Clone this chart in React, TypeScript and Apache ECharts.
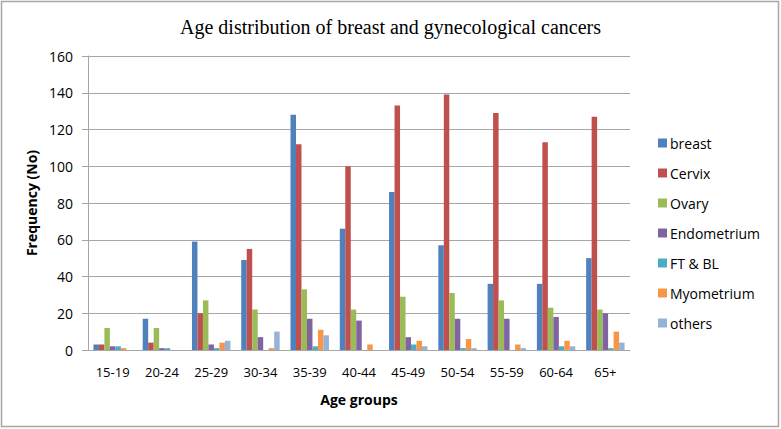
import React, { useEffect, useRef } from "react";
import * as echarts from "echarts";

const categories = ["15-19", "20-24", "25-29", "30-34", "35-39", "40-44", "45-49", "50-54", "55-59", "60-64", "65+"];
const breast = [3, 17, 59, 49, 128, 66, 86, 57, 36, 36, 50];
const cervix = [3, 4, 20, 55, 112, 100, 133, 139, 129, 113, 127];
const ovary = [12, 12, 27, 22, 33, 22, 29, 31, 27, 23, 22];
const endometrium = [2, 1, 3, 7, 17, 16, 7, 17, 17, 18, 20];
const ftbl = [2, 1, 1, 0, 2, 0, 3, 1, 0, 2, 1];
const myometrium = [1, 0, 4, 1, 11, 3, 5, 6, 3, 5, 10];
const others = [0, 0, 5, 10, 8, 0, 2, 1, 1, 2, 4];

const seriesNames = ["breast", "Cervix", "Ovary", "Endometrium", "FT & BL", "Myometrium", "others"];
const seriesData = [breast, cervix, ovary, endometrium, ftbl, myometrium, others];
const colors = ["#4F81BD", "#C0504D", "#9BBB59", "#8064A2", "#4BACC6", "#F79646", "#95B3D7"];

const sansFont = "'Open Sans', 'Noto Sans', sans-serif";

export default function App() {
  const ref = useRef<HTMLDivElement>(null);
  useEffect(() => {
    if (!ref.current) return;
    const chart = echarts.init(ref.current, undefined, { renderer: "svg" });
    chart.setOption({
      animation: false,
      backgroundColor: "#ffffff",
      color: colors,
      title: {
        text: "Age distribution of breast and gynecological cancers",
        left: "center",
        top: 12,
        textStyle: { fontFamily: "'Liberation Serif', 'DejaVu Serif', serif", fontSize: 20, fontWeight: "normal", color: "#000" },
      },
      graphic: [
        {
          type: "rect",
          shape: { x: 1.5, y: 1.5, width: 777, height: 425 },
          style: { fill: "none", stroke: "#A6A6A6", lineWidth: 1.5 },
          silent: true,
        },
      ],
      legend: {
        orient: "vertical",
        left: 653,
        top: 131,
        itemWidth: 9,
        itemHeight: 9,
        itemGap: 16,
        icon: "rect",
        textStyle: { fontFamily: sansFont, fontSize: 14, color: "#000", padding: [0, 0, 0, -2] },
        data: seriesNames,
      },
      grid: { left: 88, right: 151, top: 56, bottom: 79, containLabel: false },
      xAxis: {
        type: "category",
        data: categories,
        name: "Age groups",
        nameLocation: "middle",
        nameGap: 42,
        nameTextStyle: { fontFamily: sansFont, fontSize: 14, fontWeight: "bold", color: "#000" },
        axisLine: { lineStyle: { color: "#A6A6A6", width: 1 } },
        axisTick: { show: false },
        axisLabel: { fontFamily: sansFont, fontSize: 13, color: "#000", margin: 15, interval: 0 },
      },
      yAxis: {
        type: "value",
        min: 0,
        max: 160,
        interval: 20,
        name: "Frequency (No)",
        nameLocation: "middle",
        nameGap: 50,
        nameRotate: 90,
        nameTextStyle: { fontFamily: sansFont, fontSize: 14, fontWeight: "bold", color: "#000" },
        axisLine: { show: true, lineStyle: { color: "#A6A6A6", width: 1 } },
        axisTick: { show: true, inside: false, length: 6, lineStyle: { color: "#A6A6A6" } },
        axisLabel: { fontFamily: sansFont, fontSize: 14, color: "#000", margin: 15 },
        splitLine: { lineStyle: { color: "#A6A6A6", width: 1 } },
      },
      series: seriesNames.map((name, i) => ({
        name,
        type: "bar",
        data: seriesData[i],
        barGap: "0%",
        barCategoryGap: "22%",
      })),
    });
    return () => chart.dispose();
  }, []);
  return <div ref={ref} style={{ position: "fixed", left: 0, top: 0, width: 781, height: 429 }} />;
}
